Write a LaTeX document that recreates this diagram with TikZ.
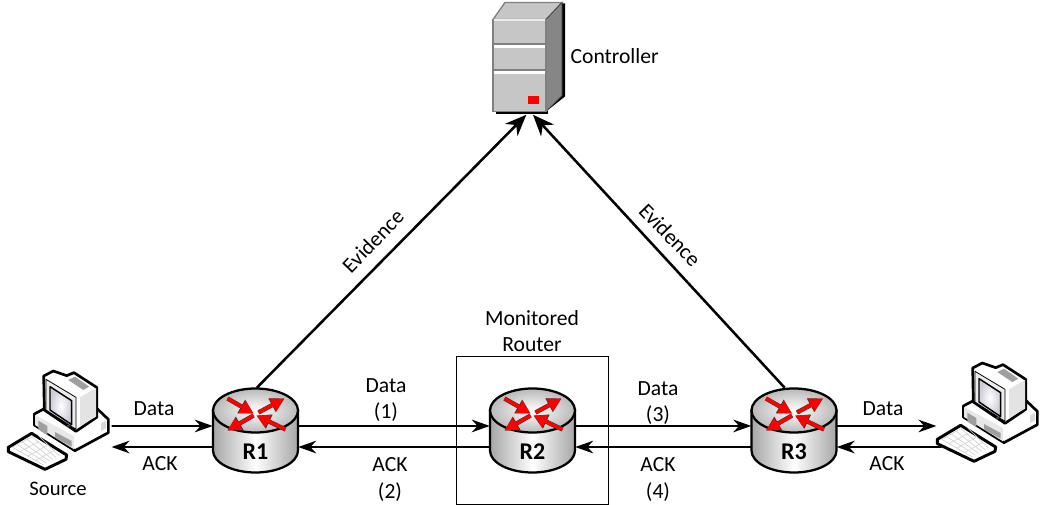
\documentclass[tikz,border=0pt]{standalone}
\usepackage{fontspec}
\setmainfont{Carlito}
\usetikzlibrary{arrows.meta, positioning}

\tikzset{
	pics/routericon/.style={code={
		\draw [line width=1.7pt, left color=gray!70, right color=gray!70, middle color=white]
			(-42.5,-20) -- (-42.5,20) arc [start angle=180, end angle=0, x radius=42.5, y radius=22] -- (42.5,-20) -- cycle;
		\draw [line width=1.7pt, inner color=white, outer color=gray!55]
			(0,-20) ellipse [x radius=42.5, y radius=22];
		\foreach \a/\b/\c/\d in {-28/-32/-2/-17, 3/-18/29/-32, -2/-15/-28/0, 30/-1/1/-15}{
			\draw [line width=3.3pt, black!80, -{Triangle[length=10.6pt,width=11pt]}] (\a,\b) -- (\c,\d);
			\draw [line width=2.6pt, red, -{Triangle[length=10pt,width=10pt]}] (\a,\b) -- (\c,\d);
		}
	}},
	pics/pcicon/.style={code={
		\begin{scope}[x=0.25pt, y=-0.25pt, line width=2pt, line join=round]
		% case
		\draw [fill=white] (103,162) -- (135,145) -- (285,140) -- (325,178) -- (325,218) -- (225,272) -- (103,195) -- cycle;
		\fill [gray!18] (105,165) -- (222,228) -- (222,268) -- (105,195) -- cycle;
		\fill [gray!75] (115,182) -- (142,198) -- (142,226) -- (115,208) -- cycle;
		\fill [gray!75] (165,216) -- (215,243) -- (215,260) -- (165,232) -- cycle;
		\fill [gray!30] (303,190) -- (318,182) -- (318,205) -- (303,213) -- cycle;
		% monitor
		\draw [fill=white] (131,48) -- (160,33) -- (200,47) -- (222,38) -- (290,82) -- (290,172) -- (228,214) -- (133,150) -- cycle;
		\fill [gray!22] (240,112) -- (288,84) -- (288,170) -- (240,198) -- cycle;
		\fill [gray!75] (205,60) -- (225,50) -- (268,80) -- (250,90) -- cycle;
		\draw [fill=gray!15, line width=0.6pt] (138,58) -- (228,112) -- (228,208) -- (138,150) -- cycle;
		\draw [inner color=white, outer color=blue!15!gray!35, line width=1.1pt] (150,80) -- (215,122) -- (215,194) -- (150,150) -- cycle;
		\fill [black!75] (205,198) circle [radius=5];
		% keyboard
		\draw [fill=white, line width=2.2pt] (25,262) -- (95,220) -- (200,285) -- (198,298) -- (135,328) -- (25,275) -- cycle;
		\foreach \k in {0,1,2,3,4,5}{
			\draw [gray!35, line width=0.5pt] (38+\k*14.5,262-\k*8) -- (130+\k*9.5,315-\k*5.5);
		}
		\foreach \k in {0,1,2,3}{
			\draw [gray!35, line width=0.5pt] (38+\k*23,262+\k*13.2) -- (95+\k*23,230+\k*13.2);
		}
		\end{scope}
	}},
	pics/servericon/.style={code={
		\fill [black] (-33,53) -- (17,53) -- (36,38) -- (36,-55) -- (30,-55) -- (30,40) -- (17,52) -- cycle;
		\fill [black] (-33,53) rectangle (19,56);
		\draw [gray, line width=1pt, fill=gray!45] (-36,-39) -- (-24,-56) -- (33,-56) -- (17,-39) -- cycle;
		\draw [gray!50!black, line width=0.5pt, fill=gray!95] (17,-39) -- (33,-56) -- (33,37) -- (17,53) -- cycle;
		\draw [gray, line width=1pt, fill=gray!45] (-36,-39) rectangle (17,53);
		\draw [white!85!gray, line width=1.2pt] (-35,-38.5) -- (16,-38.5);
		\foreach \h in {-13, 13}{
			\draw [gray, line width=1.6pt] (-36,\h-1.8) -- (17,\h-1.8);
			\draw [white, line width=2.2pt] (-35,\h+1) -- (16,\h+1);
		}
		\fill [red] (-1,38) rectangle (10,46);
	}}
}

\begin{document}
\begin{tikzpicture}[x=0.75pt, y=-0.75pt]
	\tikzstyle{Router} = [rectangle, minimum width=63.75pt, minimum height=63.75pt, inner sep=0pt]
	\tikzstyle{Host} = [rectangle, minimum width=77pt, minimum height=70pt, inner sep=0pt]
	\tikzstyle{Server} = [rectangle, minimum width=54pt, minimum height=84pt, inner sep=0pt]
	\tikzstyle{Label} = [font=\fontsize{16.2}{19.6}\selectfont, align=center, inner sep=1pt]
	\tikzstyle{RouterName} = [font=\fontsize{18}{20}\selectfont\bfseries, inner sep=0pt]
	\tikzstyle{arrow} = [line width=1.2pt, -{Stealth[length=13.5pt,width=9.5pt]}]
	\tikzstyle{evidence} = [line width=1.9pt, -{Stealth[length=16pt,width=13pt]}]

	\useasboundingbox (0,0) rectangle (1042,505);

	\node (server) [Server] at (529,58.5) {};
	\node (R1) [Router] at (255.5,430.5) {};
	\node (R2) [Router] at (532.5,430.5) {};
	\node (R3) [Router] at (794,430.5) {};
	\node (pcL) [Host] at (60,426) {};
	\node (pcR) [Host] at (988,426) {};

	% Monitored router box
	\node (box) [draw, line width=0.7pt, minimum width=114pt, minimum height=111pt, inner sep=0pt] at (532,430) {};

	% connectors
	\draw [arrow] (pcL.east) -- ([yshift=3.4pt]R1.west);
	\draw [arrow] ([yshift=3.4pt]R1.east) -- ([yshift=3.4pt]R2.west);
	\draw [arrow] ([yshift=3.4pt]R2.east) -- ([yshift=3.4pt]R3.west);
	\draw [arrow] ([yshift=3.4pt]R3.east) -- (pcR.west);
	\draw [arrow] ([yshift=-15.75pt,xshift=4pt]pcR.west) -- ([yshift=-12.4pt]R3.east);
	\draw [arrow] ([yshift=-12.4pt]R3.west) -- ([yshift=-12.4pt]R2.east);
	\draw [arrow] ([yshift=-12.4pt]R2.west) -- ([yshift=-12.4pt]R1.east);
	\draw [arrow] ([yshift=-12.4pt]R1.west) -- ([yshift=-15.75pt]pcL.east);
	\draw [evidence] ([xshift=1pt]R1.north) -- ([xshift=-2pt]server.south);
	\draw [evidence] ([xshift=-7pt]R3.north) -- ([xshift=3pt]server.south);

	% icons
	\pic at (R1) {routericon};
	\pic at (R2) {routericon};
	\pic at (R3) {routericon};
	\pic at (0,360) {pcicon};
	\pic at (929,352) {pcicon};
	\pic at (server) {servericon};

	\node (R1name) [RouterName] at (255.5,452) {R1};
	\node (R2name) [RouterName] at (532.5,452) {R2};
	\node (R3name) [RouterName] at (794,452) {R3};

	% labels
	\node (ctrl) [Label, anchor=west] at (569,56) {Controller};
	\node (source) [Label, font=\fontsize{15.5}{18}\selectfont] at (58,489) {Source};
	\node (mon) [Label] at (532,331) {Monitored\\Router};
	\node (ev1) [Label, rotate=46] at (373,241) {Evidence};
	\node (ev2) [Label, rotate=-46] at (670,235) {Evidence};
	\node (d0) [Label] at (154,409) {Data};
	\node (a0) [Label] at (160,464) {ACK};
	\node (d1) [Label] at (386,400) {Data\\(1)};
	\node (a2) [Label] at (390,479.5) {ACK\\(2)};
	\node (d3) [Label] at (658,403) {Data\\(3)};
	\node (a4) [Label] at (658,479.5) {ACK\\(4)};
	\node (d5) [Label] at (883,409) {Data};
	\node (a5) [Label] at (887,464) {ACK};
\end{tikzpicture}
\end{document}
